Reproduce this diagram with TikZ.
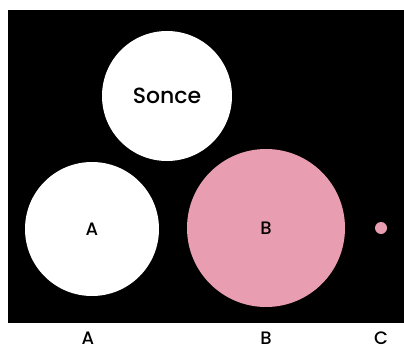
\documentclass[tikz,border=0pt]{standalone}
\usepackage{fontspec}
\setmainfont{Poppins}[UprightFont=* Medium]
\definecolor{pinkb}{RGB}{232,158,176}
\begin{document}
\begin{tikzpicture}[x=1pt,y=-1pt,
  disc/.style={circle,inner sep=0pt,draw=none},
  lbl/.style={font=\fontsize{18}{18}\selectfont,inner sep=0pt}]
\useasboundingbox (0,0) rectangle (404,350);
\fill[white] (0,0) rectangle (404,350);
\fill[black] (8,10) rectangle (404,323);
\node[disc,fill=white,minimum size=130pt,font=\fontsize{22}{22}\selectfont] (sonce) at (167,96) {Sonce};
\node[disc,fill=white,minimum size=134pt,font=\fontsize{18}{18}\selectfont] (a) at (92,229) {A};
\node[disc,fill=pinkb,minimum size=158pt,font=\fontsize{18}{18}\selectfont] (b) at (266,228) {B};
\node[disc,fill=pinkb,minimum size=12pt] (c) at (381,228) {};
\node[lbl] (la) at (88,338) {A};
\node[lbl] (lb) at (266,338) {B};
\node[lbl] (lc) at (381,338) {C};
\end{tikzpicture}
\end{document}
